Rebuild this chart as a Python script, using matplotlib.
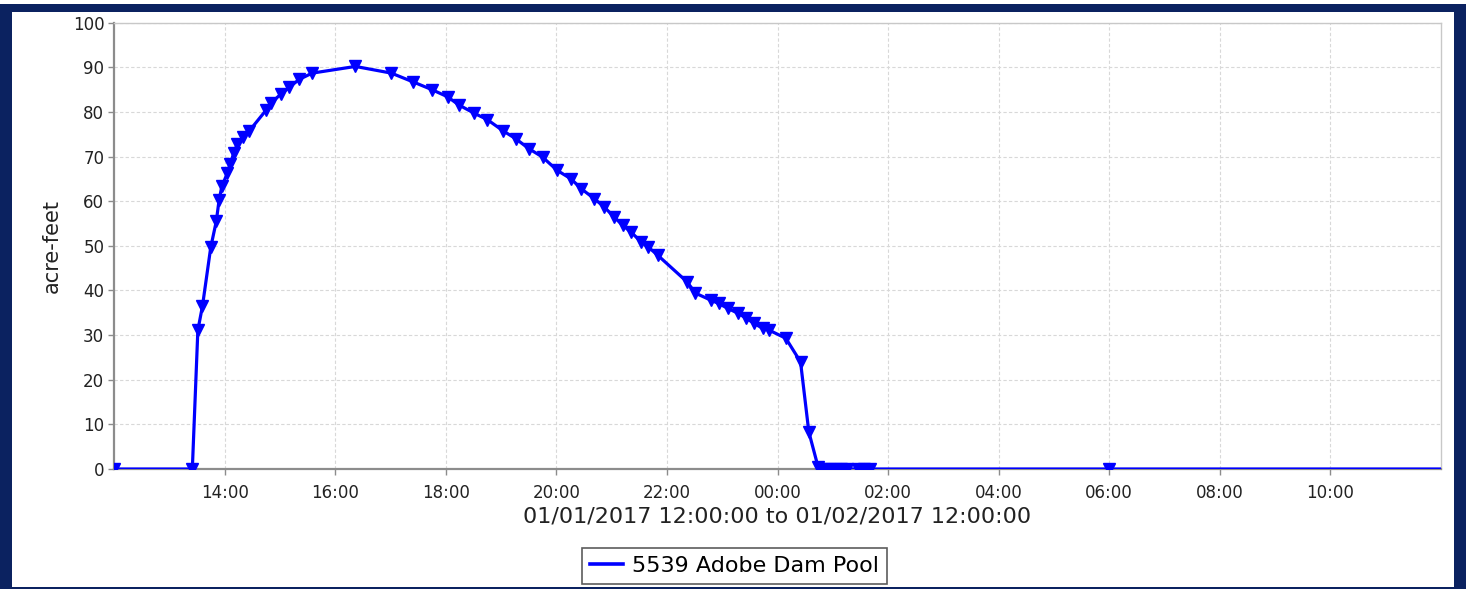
import pandas as pd
import matplotlib
matplotlib.use("Agg")
import matplotlib.pyplot as plt
import matplotlib.dates as mdates
from matplotlib.patches import Rectangle

# pool storage
times = ["2017-01-01 12:00", "2017-01-01 13:25", "2017-01-01 13:31", "2017-01-01 13:36",
         "2017-01-01 13:45", "2017-01-01 13:51", "2017-01-01 13:54", "2017-01-01 13:57",
         "2017-01-01 14:03", "2017-01-01 14:06", "2017-01-01 14:10", "2017-01-01 14:14",
         "2017-01-01 14:20", "2017-01-01 14:27", "2017-01-01 14:45", "2017-01-01 14:50",
         "2017-01-01 15:01", "2017-01-01 15:10", "2017-01-01 15:21", "2017-01-01 15:35",
         "2017-01-01 16:22", "2017-01-01 17:01", "2017-01-01 17:25", "2017-01-01 17:45",
         "2017-01-01 18:02", "2017-01-01 18:14", "2017-01-01 18:31", "2017-01-01 18:45",
         "2017-01-01 19:02", "2017-01-01 19:16", "2017-01-01 19:30", "2017-01-01 19:45",
         "2017-01-01 20:01", "2017-01-01 20:16", "2017-01-01 20:27", "2017-01-01 20:41",
         "2017-01-01 20:52", "2017-01-01 21:03", "2017-01-01 21:12", "2017-01-01 21:21",
         "2017-01-01 21:32", "2017-01-01 21:40", "2017-01-01 21:50", "2017-01-01 22:22",
         "2017-01-01 22:31", "2017-01-01 22:48", "2017-01-01 22:56", "2017-01-01 23:06",
         "2017-01-01 23:17", "2017-01-01 23:26", "2017-01-01 23:34", "2017-01-01 23:44",
         "2017-01-01 23:51", "2017-01-02 00:09", "2017-01-02 00:25", "2017-01-02 00:34",
         "2017-01-02 00:44", "2017-01-02 00:49", "2017-01-02 00:56", "2017-01-02 01:02",
         "2017-01-02 01:09", "2017-01-02 01:15", "2017-01-02 01:27", "2017-01-02 01:34",
         "2017-01-02 01:40", "2017-01-02 06:00", "2017-01-02 18:00"]
storage = [0, 0, 31.1, 36.5,
           49.7, 55.5, 60.2, 63.3,
           66.3, 68.3, 70.8, 72.9,
           74.3, 75.8, 80.4, 81.9,
           84.0, 85.5, 87.3, 88.7,
           90.2, 88.7, 86.7, 85.0,
           83.4, 81.6, 79.7, 78.3,
           75.8, 74.0, 71.8, 69.9,
           66.9, 65.0, 62.8, 60.6,
           58.7, 56.4, 54.6, 53.1,
           50.9, 49.7, 47.9, 41.9,
           39.4, 37.8, 37.1, 36.0,
           34.9, 33.8, 32.7, 31.5,
           31.1, 29.3, 24.0, 8.3,
           0.5, 0, 0, 0,
           0, 0, 0, 0,
           0, 0, 0]
series_name = "5539 Adobe Dam Pool"
y_label = "acre-feet"
x_label = "01/01/2017 12:00:00 to 01/02/2017 12:00:00"
t_start, t_end = "2017-01-01 12:00", "2017-01-02 12:00"

t = pd.to_datetime(times)

fig = plt.figure(figsize=(14.66, 5.89), dpi=100)
ax = fig.add_axes([114 / 1466, 1 - 469 / 589, 1327 / 1466, (469 - 22.7) / 589])

ax.plot(t, storage, color="#0000ff", lw=2.3, marker="v", markersize=9,
        label=series_name, zorder=3)

ax.set_xlim(pd.Timestamp(t_start), pd.Timestamp(t_end))
ax.set_ylim(0, 100)
ax.set_yticks(range(0, 101, 10))
ax.set_xticks(pd.date_range("2017-01-01 14:00", "2017-01-02 10:00", freq="2h"))
ax.xaxis.set_major_formatter(mdates.DateFormatter("%H:%M"))

ax.grid(True, color="#d8d8d8", ls=(0, (3, 2)), lw=0.8)
ax.set_axisbelow(True)
for s in ["left", "bottom"]:
    ax.spines[s].set_color("#8c8c8c")
    ax.spines[s].set_linewidth(1.6)
for s in ["top", "right"]:
    ax.spines[s].set_color("#c8c8c8")
    ax.spines[s].set_linewidth(1.0)
ax.tick_params(axis="both", colors="#8c8c8c", labelcolor="#222222", labelsize=12,
               length=4, width=1)
ax.tick_params(axis="x", pad=7)
ax.tick_params(axis="y", pad=3)

ax.set_ylabel(y_label, fontsize=15, color="#222222", labelpad=8)
ax.set_xlabel(x_label, fontsize=16, color="#222222", labelpad=3)

leg = ax.legend(loc="center", bbox_to_anchor=(734.5 / 1466, 1 - 566 / 589),
                bbox_transform=fig.transFigure, fontsize=16, frameon=True,
                fancybox=False, handlelength=1.5, borderpad=0.35, handletextpad=0.4,
                borderaxespad=0)
leg.get_frame().set_edgecolor("#333333")
leg.get_frame().set_linewidth(1.2)
for h in leg.legend_handles:
    h.set_marker("")
    h.set_linewidth(2.6)

# dark navy frame round the picture
navy = "#0b2260"
W, H = 1466, 589
for x0, y0, w, h in [(0, 0, 12, 585), (1454, 0, 12, 585), (0, 577, 1466, 8), (0, 0, 1466, 2)]:
    fig.add_artist(Rectangle((x0 / W, y0 / H), w / W, h / H, transform=fig.transFigure,
                             facecolor=navy, edgecolor="none"))

fig.savefig("out.png", dpi=100)
